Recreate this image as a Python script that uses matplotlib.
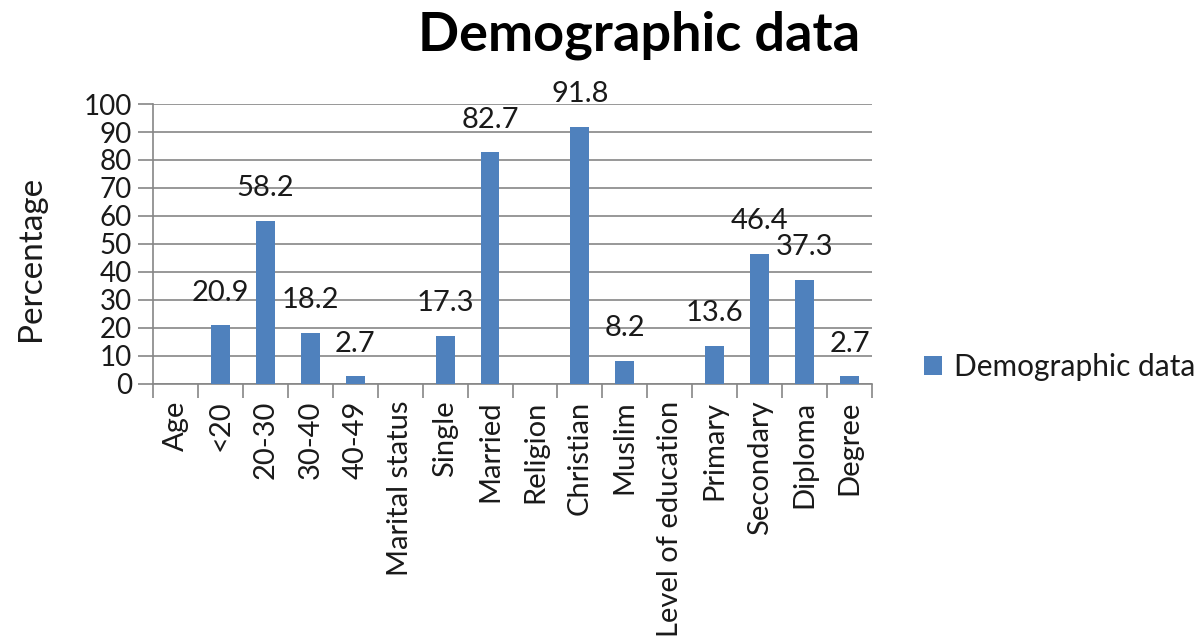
import matplotlib.pyplot as plt
import numpy as np

categories = ["Age", "<20", "20-30", "30-40", "40-49", "Marital status", "Single",
              "Married", "Religion", "Christian", "Muslim", "Level of education",
              "Primary", "Secondary", "Diploma", "Degree"]
values = [np.nan, 20.9, 58.2, 18.2, 2.7, np.nan, 17.3, 82.7, np.nan, 91.8, 8.2,
          np.nan, 13.6, 46.4, 37.3, 2.7]

plt.rcParams['font.family'] = ['Lato', 'DejaVu Sans']

fig = plt.figure(figsize=(11.99, 6.42), dpi=100)
ax = fig.add_axes([0.1276, 0.4019, 0.5997, 0.4361])

x = np.arange(len(categories))
bar_color = "#4f81bd"
bars = ax.bar(x, np.nan_to_num(values), width=0.42, color=bar_color,
              label="Demographic data", zorder=3)
for xi, v in zip(x, values):
    if not np.isnan(v):
        ax.text(xi, v + 7, f"{v:g}", ha="center", va="bottom", fontsize=21,
                color="#1a1a1a", zorder=4)

ax.set_xlim(-0.5, len(categories) - 0.5)
ax.set_ylim(0, 100)
ax.set_yticks(np.arange(0, 101, 10))
ax.yaxis.grid(True, color="#868686", linewidth=1.2, zorder=0)
ax.tick_params(axis="y", labelsize=20, length=11, color="#868686", width=1.2,
               pad=4, labelcolor="#1a1a1a")

# category ticks sit between bars, labels in the middle
ax.set_xticks(np.arange(-0.5, len(categories), 1))
ax.set_xticklabels([])
ax.set_xticks(x, minor=True)
ax.set_xticklabels(categories, minor=True, rotation=90, fontsize=21, color="#1a1a1a")
ax.tick_params(axis="x", which="major", length=10, color="#868686", width=1.2)
ax.tick_params(axis="x", which="minor", length=0, pad=12)

for side in ["top", "right"]:
    ax.spines[side].set_visible(False)
for side in ["left", "bottom"]:
    ax.spines[side].set_color("#868686")
    ax.spines[side].set_linewidth(1.2)

fig.text(0.533, 0.945, "Demographic data", ha="center", va="center",
         fontsize=39, fontweight="bold", color="black")
fig.text(0.026, 0.598, "Percentage", ha="center", va="center", rotation=90,
         fontsize=24, color="#1a1a1a")

fig.legend(handles=[bars], loc="center left", bbox_to_anchor=(0.771, 0.428),
           frameon=False, fontsize=21.5, handlelength=0.6, handleheight=0.6,
           handletextpad=0.4, borderpad=0, borderaxespad=0, labelcolor="#1a1a1a")

fig.savefig("out.png", dpi=100)
